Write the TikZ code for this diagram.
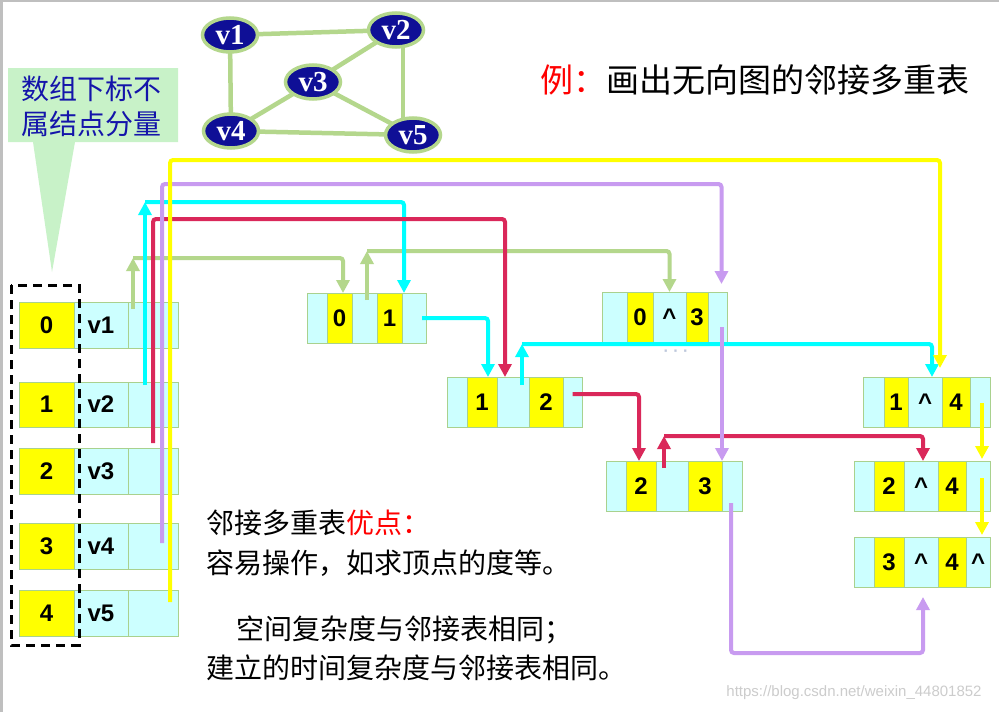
\documentclass[tikz,border=0pt]{standalone}
\usepackage{fontspec}
\setmainfont{Liberation Sans}
\newfontfamily\cjk{Noto Sans CJK SC}
\newfontfamily\serifb{Liberation Serif}
\usetikzlibrary{arrows.meta,shapes.geometric,calc}

\definecolor{cellcyan}{RGB}{204,255,255}
\definecolor{cellyellow}{RGB}{255,255,0}
\definecolor{cellborder}{RGB}{169,209,142}
\definecolor{lgreen}{RGB}{180,215,140}
\definecolor{lcyan}{RGB}{0,255,255}
\definecolor{lred}{RGB}{218,40,90}
\definecolor{lpurple}{RGB}{200,155,240}
\definecolor{lyellow}{RGB}{255,255,0}
\definecolor{navyfill}{RGB}{15,15,150}
\definecolor{calloutfill}{RGB}{200,242,200}
\definecolor{calltext}{RGB}{20,20,170}

\tikzset{
  cellbox/.style={draw=cellborder,line width=0.8pt,inner sep=0pt,outer sep=0pt,
    font=\bfseries\fontsize{24}{24}\selectfont},
  gvert/.style={ellipse,fill=navyfill,draw=lgreen,line width=3.5pt,minimum width=55pt,
    minimum height=34pt,inner sep=0pt,text=white,font=\serifb\bfseries\fontsize{29}{29}\selectfont},
  gedge/.style={draw=lgreen,line width=4.5pt},
  conn/.style={line width=4pt,rounded corners=3pt},
  tip/.style={-{Triangle[width=13pt,length=13pt]}},
  cgreen/.style={conn,draw=lgreen,color=lgreen},
  ccyan/.style={conn,draw=lcyan,color=lcyan},
  cred/.style={conn,draw=lred,color=lred},
  cpurple/.style={conn,draw=lpurple,color=lpurple},
  cyellow/.style={conn,draw=lyellow,color=lyellow},
  cjktext/.style={inner sep=0pt,font=\cjk\fontsize{28}{28}\selectfont},
}

\newcommand\mycell[7]{\node[cellbox,fill=#6,minimum width={(#4-#2)*1pt},minimum height={(#5-#3)*1pt},anchor=north west] (#1) at (#2,#3) {#7};}
\newcommand\caret{\textasciicircum}

\begin{document}
\begin{tikzpicture}[x=1pt,y=-1pt]
\useasboundingbox (0,0) rectangle (999,712);
\fill[white] (0,0) rectangle (999,712);
\draw[black!25,line width=1.5pt] (0,0.75) -- (999,0.75);
\draw[black!25,line width=3pt] (1.5,0) -- (1.5,712);

% ---- graph ----
\coordinate (p1) at (230,35);
\coordinate (p2) at (396,30);
\coordinate (p3) at (313,82);
\coordinate (p4) at (231,131);
\coordinate (p5) at (413,135);
\draw[gedge] (p1) -- (p2);
\draw[gedge] (p1) -- (p4);
\draw[gedge] (p2) -- (p3);
\draw[gedge] ($(p2)+(7,0)$) -- ($(p5)+(-10,0)$);
\draw[gedge] (p3) -- (p4);
\draw[gedge] (p3) -- (p5);
\draw[gedge] (p4) -- (p5);
\node[gvert] (g1) at (p1) {v1};
\node[gvert] (g2) at (p2) {v2};
\node[gvert] (g3) at (p3) {v3};
\node[gvert] (g4) at (p4) {v4};
\node[gvert] (g5) at (p5) {v5};

% ---- callout ----
\fill[calloutfill] (8,68) -- (178,68) -- (178,142) -- (75,142) -- (52,272) -- (33,142) -- (8,142) -- cycle;
\node[cjktext,text=calltext,anchor=base] (c1) at (91,99) {数组下标不};
\node[cjktext,text=calltext,anchor=base] (c2) at (91,134) {属结点分量};

% ---- title ----
\node[inner sep=0pt,anchor=base west,font=\cjk\fontsize{33}{33}\selectfont] (title) at (540,92.5)
  {\textcolor{red}{例：}画出无向图的邻接多重表};

% ---- array ----
\mycell{I0}{19}{302}{74}{348}{cellyellow}{0}
\mycell{V0}{74}{302}{128}{348}{cellcyan}{v1}
\mycell{P0}{128}{302}{178}{348}{cellcyan}{}
\mycell{I1}{19}{382}{74}{427}{cellyellow}{1}
\mycell{V1}{74}{382}{128}{427}{cellcyan}{v2}
\mycell{P1}{128}{382}{178}{427}{cellcyan}{}
\mycell{I2}{19}{448}{74}{494}{cellyellow}{2}
\mycell{V2}{74}{448}{128}{494}{cellcyan}{v3}
\mycell{P2}{128}{448}{178}{494}{cellcyan}{}
\mycell{I3}{19}{523}{74}{569}{cellyellow}{3}
\mycell{V3}{74}{523}{128}{569}{cellcyan}{v4}
\mycell{P3}{128}{523}{178}{569}{cellcyan}{}
\mycell{I4}{19}{590}{74}{636}{cellyellow}{4}
\mycell{V4}{74}{590}{128}{636}{cellcyan}{v5}
\mycell{P4}{128}{590}{178}{636}{cellcyan}{}
\draw[black,line width=3pt,dash pattern=on 9pt off 6pt] (11,285) rectangle (79,645);

% ---- edge boxes ----
% A: (0,1)
\mycell{A1}{307}{293}{327}{343}{cellcyan}{}
\mycell{A2}{327}{293}{352}{343}{cellyellow}{0}
\mycell{A3}{352}{293}{377}{343}{cellcyan}{}
\mycell{A4}{377}{293}{402}{343}{cellyellow}{1}
\mycell{A5}{402}{293}{426}{343}{cellcyan}{}
% B: (0,3)
\mycell{B1}{602}{292}{627}{342}{cellcyan}{}
\mycell{B2}{627}{292}{653}{342}{cellyellow}{0}
\mycell{B3}{653}{292}{686}{342}{cellcyan}{\caret}
\mycell{B4}{686}{292}{708}{342}{cellyellow}{3}
\mycell{B5}{708}{292}{727}{342}{cellcyan}{}
% C: (1,2)
\mycell{C1}{447}{377}{467}{427}{cellcyan}{}
\mycell{C2}{467}{377}{497}{427}{cellyellow}{1}
\mycell{C3}{497}{377}{529}{427}{cellcyan}{}
\mycell{C4}{529}{377}{563}{427}{cellyellow}{2}
\mycell{C5}{563}{377}{582}{427}{cellcyan}{}
% D: (1,4)
\mycell{D1}{863}{377}{884}{427}{cellcyan}{}
\mycell{D2}{884}{377}{908}{427}{cellyellow}{1}
\mycell{D3}{908}{377}{942}{427}{cellcyan}{\caret}
\mycell{D4}{942}{377}{970}{427}{cellyellow}{4}
\mycell{D5}{970}{377}{990}{427}{cellcyan}{}
% E: (2,3)
\mycell{E1}{606}{461}{626}{511}{cellcyan}{}
\mycell{E2}{626}{461}{656}{511}{cellyellow}{2}
\mycell{E3}{656}{461}{688}{511}{cellcyan}{}
\mycell{E4}{688}{461}{722}{511}{cellyellow}{3}
\mycell{E5}{722}{461}{742}{511}{cellcyan}{}
% F: (2,4)
\mycell{F1}{854}{461}{874}{511}{cellcyan}{}
\mycell{F2}{874}{461}{904}{511}{cellyellow}{2}
\mycell{F3}{904}{461}{938}{511}{cellcyan}{\caret}
\mycell{F4}{938}{461}{966}{511}{cellyellow}{4}
\mycell{F5}{966}{461}{990}{511}{cellcyan}{}
% G: (3,4)
\mycell{G1}{854}{537}{874}{587}{cellcyan}{}
\mycell{G2}{874}{537}{904}{587}{cellyellow}{3}
\mycell{G3}{904}{537}{938}{587}{cellcyan}{\caret}
\mycell{G4}{938}{537}{966}{587}{cellyellow}{4}
\mycell{G5}{966}{537}{990}{587}{cellcyan}{\caret}

\node[inner sep=0pt,text={rgb,255:red,190;green,200;blue,220},font=\bfseries\fontsize{16}{16}\selectfont] (dots) at (676,353) {· · ·};

% ---- connectors ----
% green
\draw[cgreen,tip] ($(P0.north west)+(5,7)$) -- ++(0,-51) coordinate (gc1);
\draw[cgreen,tip] (gc1) -| (A2.north -| 343,0);
\draw[cgreen,tip] ($(A3.north west)+(15,7)$) -- ++(0,-49) coordinate (gc2);
\draw[cgreen,tip] (gc2) -| (B3.north);
% cyan
\draw[ccyan,tip] ($(P1.north west)+(17,3)$) -- ++(0,-183) coordinate (cc1);
\draw[ccyan,tip] (cc1) -| ($(A5.north west)+(2,0)$);
\draw[ccyan,tip] ($(A5.center)+(8,0)$) -| ($(C2.north)+(6,0)$);
\draw[ccyan,tip] ($(C3.north)+(9,8)$) -- ++(0,-41) coordinate (cc3);
\draw[ccyan,tip] (cc3) -| ($(D3.north)+(7,0)$);
% crimson
\draw[cred,tip] ($(P2.north west)+(25,-5)$) -- ++(0,-224) -| ($(C3.north)+(-8,0)$);
\draw[cred,tip] ($(C5.center)+(0,-8)$) -| ($(E2.north)+(-2,0)$);
\draw[cred,tip] ($(E3.north)+(-8,7)$) -- ++(0,-32) coordinate (rc3);
\draw[cred,tip] (rc3) -| ($(F3.north)+(2,0)$);
% lavender
\draw[cpurple,tip] ($(P3.north west)+(34,20)$) -- ++(0,-359) -| ($(B5.north)+(4,-8)$);
\draw[cpurple,tip] ($(B5.center)+(4.5,10)$) -- (E5.north west);
\draw[cpurple,tip] ($(E5.south)+(-1,-8)$) -- ++(0,150) -| ($(G3.south)+(2,10)$);
% yellow
\draw[cyellow,tip] ($(P4.north west)+(42,12)$) -- ++(0,-442) -| ($(D4.north west)+(-2,-9)$);
\draw[cyellow,tip] ($(D5.center)+(2,1)$) -- ($(F5.north)+(4,-2)$);
\draw[cyellow,tip] ($(F5.center)+(4,-8)$) -- ($(G5.north)+(4,-2)$);

% ---- notes ----
\node[cjktext,anchor=base west] (t1) at (206,533) {邻接多重表\textcolor{red}{优点：}};
\node[cjktext,anchor=base west] (t2) at (206,573) {容易操作，如求顶点的度等。};
\node[cjktext,anchor=base west] (t3) at (236,639) {空间复杂度与邻接表相同；};
\node[cjktext,anchor=base west] (t4) at (206,678) {建立的时间复杂度与邻接表相同。};

\node[inner sep=0pt,text=black!20,font=\fontsize{15}{15}\selectfont] (wm) at (854,693) {https://blog.csdn.net/weixin\_44801852};
\end{tikzpicture}
\end{document}
